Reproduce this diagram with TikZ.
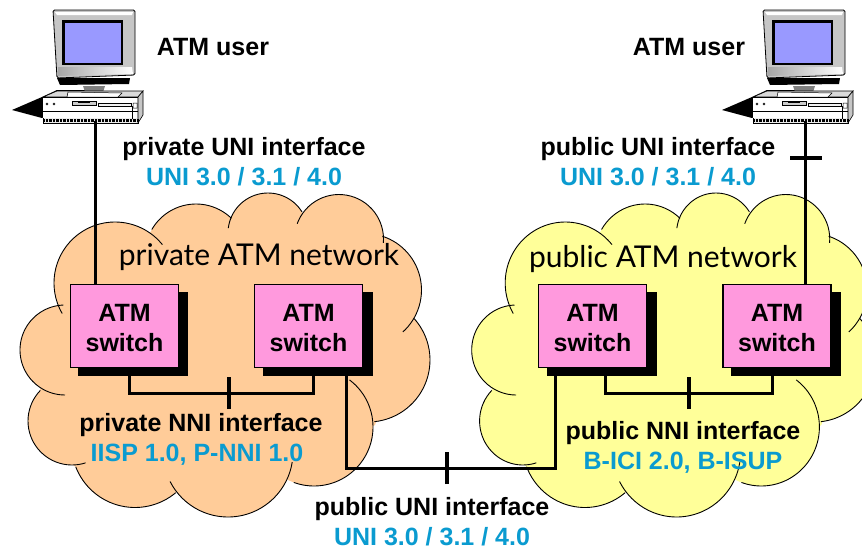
\documentclass[tikz,border=0pt]{standalone}
\usepackage{fontspec}
\setmainfont{Liberation Sans}
\newfontfamily\handfont{Lato}
\definecolor{cloudorange}{HTML}{FFCC99}
\definecolor{cloudyellow}{HTML}{FFFF99}
\definecolor{switchpink}{HTML}{FF99DD}
\definecolor{protoblue}{HTML}{0A9BD0}
\definecolor{screenblue}{HTML}{9999FF}
% a lobe: centre x, centre y, radius, start angle, end angle
\newcommand{\lobefillshape}[5]{\fill[cloudcol] (#1,#2) circle [radius=#3pt];}
\newcommand{\lobeedgeshape}[5]{\draw[lobeedge] plot[smooth,domain=#4:#5,samples=32,variable=\t] ({#1+#3*cos(\t)},{#2+#3*sin(\t)});}
\newcommand{\cloudlobes}[1]{%
 #1{115}{283}{61}{-39}{-210}%
 #1{65}{350}{45}{-92}{-270}%
 #1{72}{421}{44}{-136}{-288}%
 #1{135}{444}{63.5}{159}{50}%
 #1{228}{452}{65}{153}{9}%
 #1{314}{427}{59}{110}{-53}%
 #1{368}{360}{62}{84}{-42}%
 #1{365}{290}{56.5}{48}{-72}%
 #1{339}{239}{44.5}{5}{-160}%
 #1{268}{233}{40}{-32}{-173}%
 #1{196}{255}{51}{-46}{-150}%
}
\newcommand{\cloudbody}[1]{%
 \colorlet{cloudcol}{#1}%
 \fill[cloudcol] (60,310) -- (153,230) -- (296,223) -- (383,240) -- (417,311) -- (375,425) -- (294,470) -- (170,482) -- (74,466) -- (40,390) -- cycle;
 \cloudlobes{\lobefillshape}
 \cloudlobes{\lobeedgeshape}
}
\tikzset{
 x=1pt,y=-1pt,
 lobeedge/.style={draw=black,line width=0.9pt},
 switchbox/.style={draw=black,line width=1.5pt,fill=switchpink,minimum width=108pt,minimum height=83pt,
   inner sep=0pt,align=center,font=\fontsize{25}{30}\selectfont\bfseries},
 shadowbox/.style={fill=black,minimum width=110pt,minimum height=84pt,inner sep=0pt},
 link/.style={draw=black,line width=3pt},
 tickmark/.style={draw=black,line width=4pt},
 label/.style={font=\fontsize{25}{28}\selectfont\bfseries,inner sep=0pt,anchor=base},
 proto/.style={font=\fontsize{25}{28}\selectfont\bfseries,text=protoblue,inner sep=0pt,anchor=base},
 nettext/.style={font=\fontsize{30}{34}\handfont,inner sep=0pt,anchor=base},
 pics/computer/.style={code={
  % desk shadow
  \fill[black] (12,110) -- (42,97) -- (57,90) -- (90,90) -- (90,100) -- (42,118) -- cycle;
  % monitor
  \fill[black] (57,78) -- (130,78) -- (129,84) -- (60,85) -- cycle;
  \fill[gray] (83,86) -- (105,86) -- (103,92) -- (85,92) -- cycle;
  \draw[black,line width=0.8pt,fill=gray!45,rounded corners=1.5pt] (53,10) -- (135,10) -- (135,75) -- (57,78) -- cycle;
  \fill[white] (55,12) -- (133,12) -- (132,15) -- (57,15) -- cycle;
  \shade[left color=gray!70,right color=white] (58,67) -- (132,67) -- (133,74) -- (58,76) -- cycle;
  \fill[black] (62,20) rectangle (123,65);
  \fill[screenblue] (65,23) rectangle (121,63);
  % case
  \fill[gray!30,draw=black,line width=0.6pt] (43,97) -- (57,91) -- (143,91) -- (138,97) -- cycle;
  \fill[white,draw=black,line width=0.5pt] (68,92) -- (122,93) -- (118,97) -- (67,97) -- cycle;
  \fill[gray!15,draw=black,line width=0.6pt] (43,97) rectangle (138,123);
  \fill[gray!45,draw=black,line width=0.6pt] (138,97) -- (143,91) -- (143,115) -- (138,123) -- cycle;
  \fill[white] (43,98) rectangle (137,118);
  \draw[black,line width=0.5pt,fill=gray!40] (72,101) rectangle (96,105);
  \fill[black] (78,101) rectangle (90,103);
  \draw[black,line width=0.5pt,fill=gray!10] (98,103) rectangle (131,106);
  \draw[black,line width=0.5pt] (47,104) circle (1pt) (54,104) circle (1pt) (133,103) rectangle (137,108);
  \draw[black,line width=0.4pt] (43,111) -- (138,111) (132,106) -- (132,119);
  \draw[black,line width=2.4pt,dash pattern=on 0.8pt off 0.6pt] (43,120.5) -- (139,120.5);
  \coordinate (-port) at (95,121);
 }}
}
\newcommand{\swtext}{\rule{0pt}{22pt}ATM\\switch}
\begin{document}
\begin{tikzpicture}
\useasboundingbox (0,0) rectangle (862,549);
\fill[white] (0,0) rectangle (862,549);
% clouds
\begin{scope}
 \cloudbody{cloudorange}
\end{scope}
\begin{scope}[xshift=452pt,xscale=0.985]
 \cloudbody{cloudyellow}
\end{scope}
% computers
\pic (pcl) at (0,0) {computer};
\pic (pcr) at (710,0) {computer};
% switches
\node[shadowbox] (shl) at (133,334) {};
\node[shadowbox] (shm) at (318,334) {};
\node[shadowbox] (shn) at (602,334) {};
\node[shadowbox] (shr) at (786,334) {};
\node[switchbox] (swa) at (124.5,326) {\swtext};
\node[switchbox] (swb) at (308.5,326) {\swtext};
\node[switchbox] (swc) at (592.5,326) {\swtext};
\node[switchbox] (swd) at (777,326) {\swtext};
% junctions
\coordinate (nniL) at (229,393);
\coordinate (nniR) at (689,393);
\coordinate (pubmid) at (447,468);
\coordinate (upr) at (806,158);
% connectors
\draw[link] (pcl-port) -- (swa.north -| pcl-port);
\draw[link] (pcr-port) -- (swd.north -| pcr-port);
\draw[link] ([xshift=4.8pt]swa.south) |- (nniL) -| ([xshift=4.5pt]swb.south);
\draw[link] ([xshift=13.2pt]swc.south) |- (nniR) -| ([xshift=-4.3pt]swd.south);
\draw[link] ([xshift=38pt]swb.south) |- (pubmid) -| ([xshift=-37.5pt]swc.south);
\draw[tickmark] ([yshift=-16pt]nniL) -- ([yshift=16pt]nniL);
\draw[tickmark] ([yshift=-16pt]nniR) -- ([yshift=16pt]nniR);
\draw[tickmark] ([yshift=-16pt]pubmid) -- ([yshift=16pt]pubmid);
\draw[tickmark] ([xshift=-16pt]upr) -- ([xshift=16pt]upr);
% labels
\node[label] (u1) at (213,55) {ATM user};
\node[label] (u2) at (689,55) {ATM user};
\node[label] (a1) at (244,155) {private UNI interface};
\node[proto] (a2) at (244,185) {UNI 3.0 / 3.1 / 4.0};
\node[label] (b1) at (658,155) {public UNI interface};
\node[proto] (b2) at (658,185) {UNI 3.0 / 3.1 / 4.0};
\node[nettext] (n1) at (259,265) {private ATM network};
\node[nettext] (n2) at (663,267) {public ATM network};
\node[label] (c1) at (201,431) {private NNI interface};
\node[proto] (c2) at (197,461) {IISP 1.0, P-NNI 1.0};
\node[label] (d1) at (683,439) {public NNI interface};
\node[proto] (d2) at (683,469) {B-ICI 2.0, B-ISUP};
\node[label] (e1) at (432,515) {public UNI interface};
\node[proto] (e2) at (432,545) {UNI 3.0 / 3.1 / 4.0};
\end{tikzpicture}
\end{document}
